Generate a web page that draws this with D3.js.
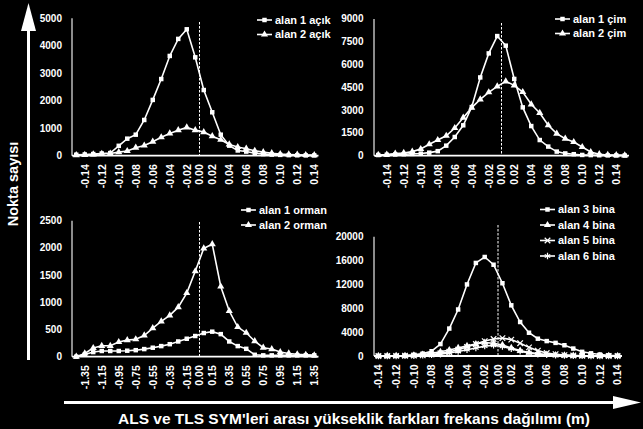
<!DOCTYPE html>
<html><head><meta charset="utf-8">
<script src="https://cdn.jsdelivr.net/npm/d3@7/dist/d3.min.js"></script>
<style>
body{margin:0;background:#000;}
svg{display:block;background:#000;}
text{font-family:"Liberation Sans",Arial,sans-serif;font-weight:bold;fill:#fff;}
</style>
</head><body><svg id="chart" width="643" height="429"></svg>
<script>
// ---------- DATA ----------
const catsAcik = ["-0.15","-0.14","-0.13","-0.12","-0.11","-0.10","-0.09","-0.08","-0.07","-0.06","-0.05","-0.04","-0.03","-0.02","-0.01","0.01","0.02","0.03","0.04","0.05","0.06","0.07","0.08","0.09","0.10","0.11","0.12","0.13","0.14"];
const catsCim = ["-0.15","-0.14","-0.13","-0.12","-0.11","-0.10","-0.09","-0.08","-0.07","-0.06","-0.05","-0.04","-0.03","-0.02","-0.01","0.01","0.02","0.03","0.04","0.05","0.06","0.07","0.08","0.09","0.10","0.11","0.12","0.13","0.14","0.15"];
const catsOrman = ["-1.45","-1.35","-1.25","-1.15","-1.05","-0.95","-0.85","-0.75","-0.65","-0.55","-0.45","-0.35","-0.25","-0.15","-0.05","0.05","0.15","0.25","0.35","0.45","0.55","0.65","0.75","0.85","0.95","1.05","1.15","1.25","1.35"];
const catsBina = ["-0.14","-0.13","-0.12","-0.11","-0.10","-0.09","-0.08","-0.07","-0.06","-0.05","-0.04","-0.03","-0.02","-0.01","0.01","0.02","0.03","0.04","0.05","0.06","0.07","0.08","0.09","0.10","0.11","0.12","0.13","0.14"];

const ticksSmall = ["-0.14","-0.12","-0.10","-0.08","-0.06","-0.04","-0.02","0.02","0.04","0.06","0.08","0.10","0.12","0.14"];
const ticksOrman = ["-1.35","-1.15","-0.95","-0.75","-0.55","-0.35","-0.15","0.15","0.35","0.55","0.75","0.95","1.15","1.35"];
const zeroLabel = "0.00";

const yTicksAcik = [0,1000,2000,3000,4000,5000];
const yTicksCim = [0,1500,3000,4500,6000,7500,9000];
const yTicksOrman = [0,500,1000,1500,2000,2500];
const yTicksBina = [0,4000,8000,12000,16000,20000];

const alan1Acik = [35,45,60,80,95,360,620,765,1300,2030,2790,3630,4250,4600,3580,2390,1580,765,365,190,150,90,60,40,30,20,15,10,10];
const alan2Acik = [20,30,45,70,80,130,170,290,370,510,670,810,930,1030,930,860,710,580,410,315,255,180,130,90,60,45,35,25,20];

const alan1Cim = [45,60,80,100,120,140,200,300,660,1230,2000,3200,5150,6730,7870,7240,5050,3180,1950,1030,600,270,150,100,50,40,30,20,15,10];
const alan2Cim = [50,70,140,180,270,440,750,1030,1310,1820,2500,3160,3700,4170,4560,4890,4630,4190,3380,2810,2000,1450,1120,900,570,240,100,50,35,20];

const alan1Orman = [0,40,85,105,105,105,110,120,140,165,195,230,280,330,380,435,460,415,280,195,145,35,25,25,25,25,25,25,25];
const alan2Orman = [0,60,160,200,200,270,305,320,390,525,650,760,910,1170,1570,1990,2070,1290,840,545,440,285,165,140,85,60,45,35,25];

const alan3Bina = [0,0,20,60,200,400,800,2000,4600,7800,12000,15600,16600,15300,12200,8500,5700,3900,2900,2500,2200,1800,1250,700,450,250,120,50];
const alan4Bina = [0,5,15,40,100,250,450,700,1000,1350,1700,2000,2250,2150,1850,1350,900,600,400,250,150,100,60,40,20,10,5,0];
const alan5Bina = [0,5,15,30,60,120,250,450,700,1050,1500,2000,2500,2850,3000,2750,2150,1450,900,500,300,150,80,40,20,10,5,0];
const alan6Bina = [0,5,10,25,50,100,180,300,500,750,1050,1350,1650,1800,1600,1200,800,500,300,180,100,60,30,15,10,5,0,0];

const yTitle = "Nokta sayısı";
const xTitle = "ALS ve TLS SYM'leri arası yükseklik farkları frekans dağılımı (m)";

// ---------- LAYOUT ----------
const panels = [
  {cats:catsAcik, ticks:ticksSmall, zero:["-0.01","0.01"], yTicks:yTicksAcik,
   series:[{name:"alan 1 açık",values:alan1Acik,m:"square"},{name:"alan 2 açık",values:alan2Acik,m:"triangle"}],
   left:72,right:318.5,top:18.3,bottom:155.7,labX:62, legX:257, legY:20, legDy:14.5, zeroTop:22},
  {cats:catsCim, ticks:ticksSmall, zero:["-0.01","0.01"], yTicks:yTicksCim,
   series:[{name:"alan 1 çim",values:alan1Cim,m:"square"},{name:"alan 2 çim",values:alan2Cim,m:"triangle"}],
   left:374,right:629,top:18.9,bottom:155.7,labX:363.5, legX:555, legY:19, legDy:14.5, zeroTop:23},
  {cats:catsOrman, ticks:ticksOrman, zero:["-0.05","0.05"], yTicks:yTicksOrman,
   series:[{name:"alan 1 orman",values:alan1Orman,m:"square"},{name:"alan 2 orman",values:alan2Orman,m:"triangle"}],
   left:72,right:318.5,top:220.7,bottom:356.7,labX:62, legX:241, legY:210, legDy:15, zeroTop:222},
  {cats:catsBina, ticks:ticksSmall, zero:["-0.01","0.01"], yTicks:yTicksBina,
   series:[{name:"alan 3 bina",values:alan3Bina,m:"square"},{name:"alan 4 bina",values:alan4Bina,m:"triangle"},
           {name:"alan 5 bina",values:alan5Bina,m:"x"},{name:"alan 6 bina",values:alan6Bina,m:"asterisk"}],
   left:374,right:622,top:236.7,bottom:356,labX:363.5, legX:540, legY:209.5, legDy:15.5, zeroTop:225}
];

const svg = d3.select("#chart");

function drawMarker(g, type, x, y){
  if(type==="square"){
    g.append("path").attr("d", d3.symbol(d3.symbolSquare, 20)()).attr("transform",`translate(${x},${y})`).attr("fill","#fff");
  } else if(type==="triangle"){
    g.append("path").attr("d", d3.symbol(d3.symbolTriangle, 22)()).attr("transform",`translate(${x},${y})`).attr("fill","#fff");
  } else if(type==="x"){
    g.append("path").attr("d", d3.symbol(d3.symbolX, 22)()).attr("transform",`translate(${x},${y})`).attr("fill","none").attr("stroke","#fff").attr("stroke-width",1.2);
  } else {
    g.append("path").attr("d", d3.symbol(d3.symbolAsterisk, 28)()).attr("transform",`translate(${x},${y})`).attr("fill","none").attr("stroke","#fff").attr("stroke-width",1.2);
  }
}

panels.forEach(p=>{
  const g = svg.append("g");
  const x = d3.scaleBand().domain(p.cats).range([p.left,p.right]);
  const cx = c => x(c) + x.bandwidth()/2;
  const yMax = d3.max(p.yTicks);
  const y = d3.scaleLinear().domain([0,yMax]).range([p.bottom,p.top]);

  g.selectAll(".yt").data(p.yTicks).enter().append("text")
    .attr("x",p.labX).attr("y",d=>y(d)).attr("dy","0.35em")
    .attr("text-anchor","end").style("font-size","10px").text(d=>d);

  g.append("line").attr("x1",p.left).attr("x2",p.left).attr("y1",y(yMax)).attr("y2",p.bottom)
    .attr("stroke","#bbb").attr("stroke-width",1.5);

  const zx = (cx(p.zero[0]) + cx(p.zero[1]))/2;
  g.append("line").attr("x1",zx).attr("x2",zx).attr("y1",p.zeroTop).attr("y2",p.bottom)
    .attr("stroke","#fff").attr("stroke-width",1).attr("stroke-dasharray","2.5,1.5");

  const line = d3.line().x((d,i)=>cx(p.cats[i])).y(d=>y(d));
  p.series.forEach(s=>{
    g.append("path").attr("d",line(s.values)).attr("fill","none").attr("stroke","#fff").attr("stroke-width",1.6);
  });
  p.series.forEach(s=>{
    s.values.forEach((v,i)=>drawMarker(g, s.m, cx(p.cats[i]), y(v)));
  });

  g.append("line").attr("x1",p.left).attr("x2",p.right).attr("y1",p.bottom).attr("y2",p.bottom)
    .attr("stroke","#fff").attr("stroke-width",1.8);

  const lblY = p.bottom + 8.5;
  g.selectAll(".xt").data(p.ticks).enter().append("text")
    .attr("transform",d=>`translate(${cx(d)},${lblY}) rotate(-90)`)
    .attr("dy","0.36em").attr("text-anchor","end").style("font-size","10.5px").text(d=>d);
  g.append("text").attr("transform",`translate(${zx},${lblY}) rotate(-90)`)
    .attr("dy","0.36em").attr("text-anchor","end").style("font-size","10.5px").text(zeroLabel);

  p.series.forEach((s,i)=>{
    const ly = p.legY + i*p.legDy;
    g.append("line").attr("x1",p.legX).attr("x2",p.legX+15).attr("y1",ly).attr("y2",ly).attr("stroke","#fff").attr("stroke-width",1.6);
    drawMarker(g, s.m, p.legX+7.5, ly);
    g.append("text").attr("x",p.legX+18).attr("y",ly).attr("dy","0.35em").style("font-size","11px").text(s.name);
  });
});

svg.append("line").attr("x1",28.5).attr("x2",28.5).attr("y1",30).attr("y2",360).attr("stroke","#fff").attr("stroke-width",3);
svg.append("path").attr("d","M28.5,3 L21,31 L36,31 Z").attr("fill","#fff");
svg.append("line").attr("x1",64).attr("x2",615).attr("y1",402.5).attr("y2",402.5).attr("stroke","#fff").attr("stroke-width",3);
svg.append("path").attr("d","M641,402.5 L613,396 L613,409 Z").attr("fill","#fff");

svg.append("text").attr("transform","translate(18,184) rotate(-90)").attr("text-anchor","middle")
  .style("font-size","14.5px").text(yTitle);
svg.append("text").attr("x",354).attr("y",424).attr("text-anchor","middle")
  .attr("textLength",472).attr("lengthAdjust","spacingAndGlyphs")
  .style("font-size","15.5px").text(xTitle);
</script>
</body></html>
